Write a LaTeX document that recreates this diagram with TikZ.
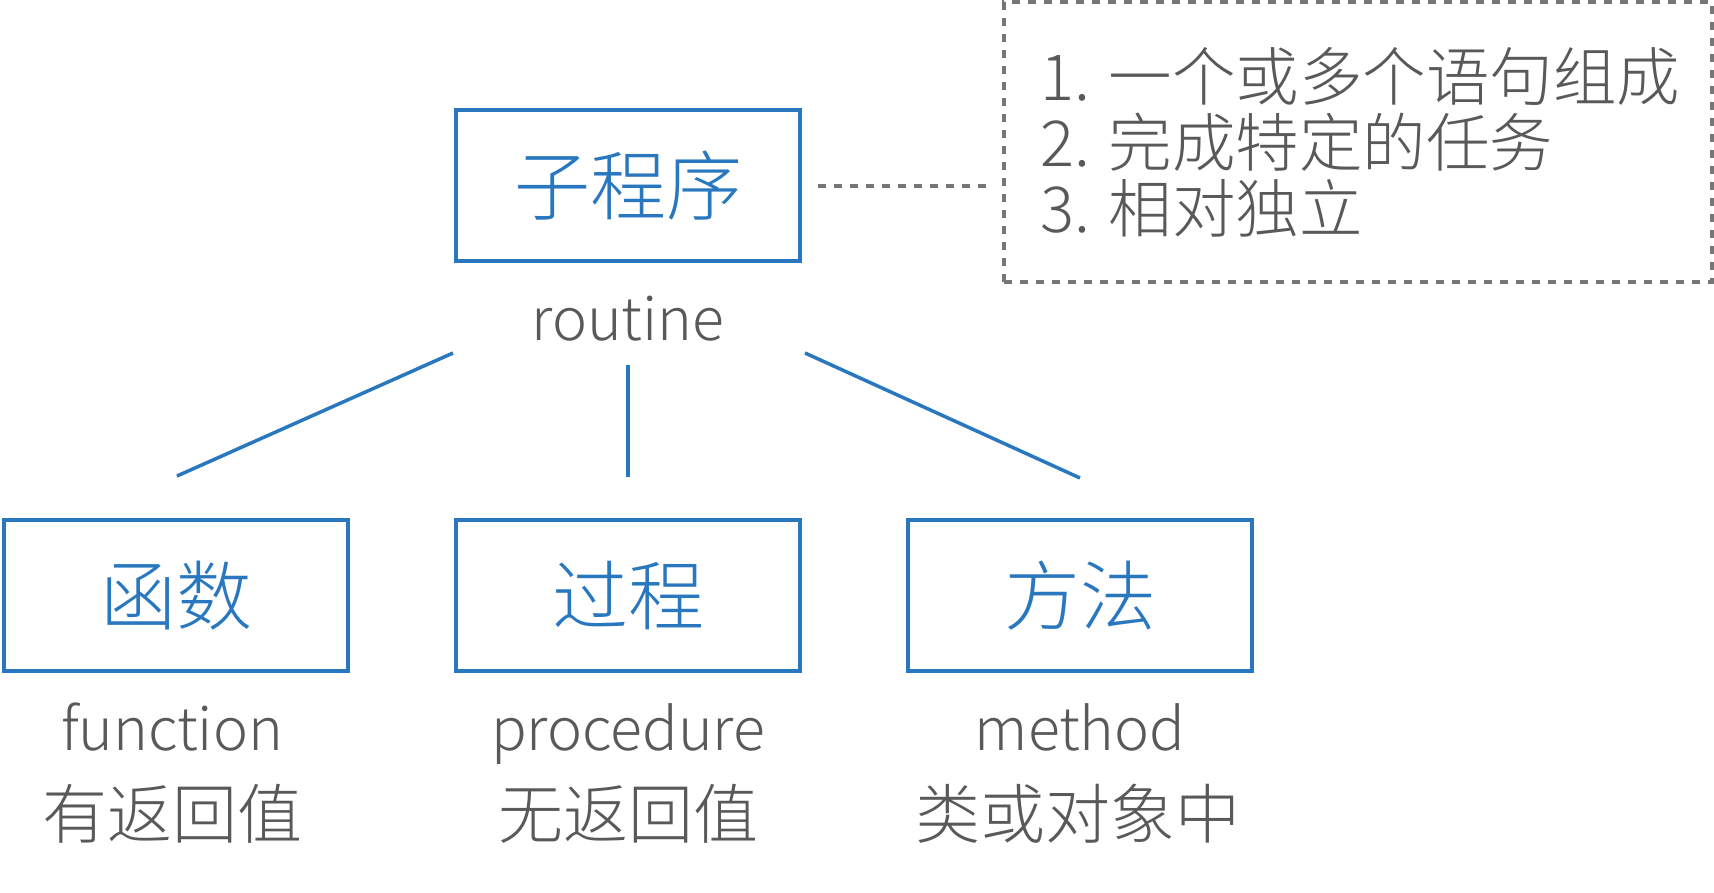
\documentclass[tikz,border=0pt]{standalone}
\usepackage{fontspec}
\IfFontExistsTF{Noto Sans CJK SC Light}{\setmainfont{Noto Sans CJK SC Light}}{\setmainfont{Noto Sans CJK SC}}
\definecolor{blu}{HTML}{2877BF}
\definecolor{txt}{HTML}{595959}
\definecolor{dgray}{HTML}{767676}
\begin{document}
\begin{tikzpicture}[x=1pt,y=-1pt,
  box/.style={draw=blu, line width=4pt, minimum width=344pt, minimum height=151pt,
    inner sep=0pt, text=blu, font=\fontsize{76}{76}\selectfont},
  lbl/.style={text=txt, font=\fontsize{59}{59}\selectfont, inner sep=0pt, anchor=base},
  cjk/.style={text=txt, font=\fontsize{65}{65}\selectfont, inner sep=0pt, anchor=base},
  note/.style={draw=dgray, line width=3.5pt, dash pattern=on 8pt off 8pt, minimum width=708pt, minimum height=280pt, inner sep=0pt},
  noteline/.style={text=txt, font=\fontsize{63.5}{63.5}\selectfont, inner sep=0pt, anchor=base west},
  conn/.style={draw=blu, line width=3.5pt},
  dotl/.style={draw=dgray, line width=3.5pt, dash pattern=on 8pt off 8pt}]
\useasboundingbox (0,0) rectangle (1714,892);
% top
\node[box] (sub) at (628,185.5) {子程序};
\node[lbl] (routine) at (628,340) {routine};
% bottom boxes
\node[box] (func) at (176,595.5) {函数};
\node[box] (proc) at (628,595.5) {过程};
\node[box] (meth) at (1080,595.5) {方法};
\node[lbl] (funcen) at (172,750) {function};
\node[lbl] (procen) at (628,750) {procedure};
\node[lbl] (methen) at (1080,750) {method};
\node[cjk] (funczh) at (172,838) {有返回值};
\node[cjk] (proczh) at (628,838) {无返回值};
\node[cjk] (methzh) at (1078,838) {类或对象中};
% note
\node[note] (note) at (1358,142) {};
\node[noteline] (n1) at (1040,100) {1. 一个或多个语句组成};
\node[noteline] (n2) at (1040,166) {2. 完成特定的任务};
\node[noteline] (n3) at (1040,232) {3. 相对独立};
% connectors
\coordinate (la) at (453,353);
\coordinate (lb) at (177,476);
\coordinate (ma) at (628,365);
\coordinate (mb) at (628,477);
\coordinate (ra) at (805,353);
\coordinate (rb) at (1080,478);
\draw[conn] (la) -- (lb);
\draw[conn] (ma) -- (mb);
\draw[conn] (ra) -- (rb);
\coordinate (da) at (818,186);
\coordinate (db) at (986,186);
\draw[dotl] (da) -- (db);
\end{tikzpicture}
\end{document}
